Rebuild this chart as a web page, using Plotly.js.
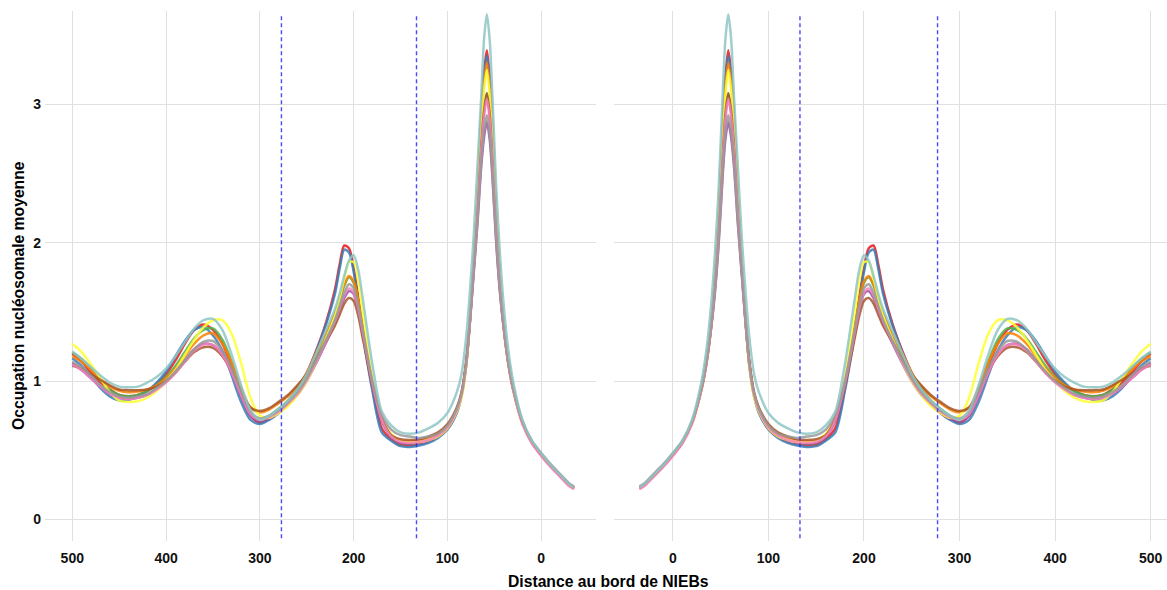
<!DOCTYPE html>
<html>
<head>
<meta charset="utf-8">
<script src="https://cdn.plot.ly/plotly-3.0.1.min.js"></script>
<style>
  html, body { margin: 0; padding: 0; background: #ffffff; }
  #chart { width: 1167px; height: 590px; }
</style>
</head>
<body>
<div id="chart"></div>
<script>
// Distance to NIEB edge (bp)
const distance = [-35,-30,-20,-10,0,10,20,30,35,40,44,48,52,55,58,61,64,68,72,76,80,85,90,100,110,120,130,140,150,160,170,180,190,195,200,205,210,215,220,230,240,250,260,270,280,290,300,310,320,330,340,350,360,370,380,390,400,410,420,430,440,450,460,470,480,490,500];

// Mean nucleosome occupancy, one array per series
const seriesRed = [0.225,0.245,0.315,0.385,0.465,0.555,0.70,0.95,1.14,1.42,
  1.74,2.20,2.82,3.20,3.39,3.23,2.90,2.33,1.86,1.45,
  1.13,0.90,0.78,
  0.66,0.60,0.565,0.545,0.535,0.54,
  0.58,0.66,0.95,1.36,1.60,1.82,1.96,1.98,1.84,1.66,1.41,1.22,1.06,0.94,0.85,0.78,0.73,0.70,
  0.75,0.90,1.10,1.27,1.37,1.41,1.37,1.27,1.15,1.05,0.98,0.93,0.90,0.89,0.90,0.94,0.99,1.06,1.14,1.20];
const seriesBlue = [0.23,0.25,0.32,0.39,0.47,0.56,0.70,0.95,1.14,1.41,
  1.73,2.18,2.79,3.17,3.35,3.19,2.88,2.31,1.85,1.45,
  1.12,0.89,0.77,
  0.65,0.59,0.555,0.535,0.525,0.53,
  0.57,0.63,0.93,1.33,1.57,1.79,1.93,1.95,1.81,1.63,1.40,1.21,1.05,0.93,0.84,0.77,0.72,0.69,
  0.72,0.85,1.04,1.22,1.33,1.39,1.37,1.29,1.18,1.07,0.99,0.93,0.89,0.865,0.86,0.89,0.95,1.03,1.11,1.165];
const seriesGreen = [0.23,0.25,0.32,0.39,0.47,0.56,0.70,0.95,1.13,1.40,
  1.68,2.08,2.60,2.93,3.08,2.95,2.70,2.22,1.82,1.44,
  1.12,0.90,0.79,
  0.66,0.60,0.57,0.555,0.55,0.555,
  0.60,0.72,0.99,1.38,1.57,1.71,1.75,1.69,1.58,1.48,1.32,1.18,1.04,0.94,0.86,0.80,0.75,0.72,
  0.77,0.94,1.14,1.30,1.38,1.37,1.31,1.21,1.11,1.03,0.97,0.93,0.90,0.89,0.90,0.94,1.01,1.09,1.16,1.21];
const seriesPurple = [0.23,0.25,0.32,0.39,0.47,0.56,0.70,0.94,1.12,1.38,
  1.64,2.00,2.47,2.75,2.87,2.76,2.55,2.14,1.78,1.43,
  1.12,0.90,0.79,
  0.66,0.60,0.57,0.555,0.55,0.555,
  0.60,0.71,0.97,1.33,1.51,1.63,1.65,1.60,1.51,1.42,1.27,1.13,1.00,0.90,0.83,0.77,0.73,0.71,
  0.75,0.89,1.06,1.19,1.26,1.27,1.23,1.15,1.07,1.00,0.94,0.90,0.88,0.87,0.88,0.91,0.96,1.02,1.08,1.13];
const seriesOrange = [0.23,0.25,0.32,0.39,0.47,0.56,0.70,0.95,1.13,1.40,
  1.72,2.15,2.75,3.12,3.30,3.15,2.85,2.30,1.85,1.45,
  1.13,0.91,0.80,
  0.68,0.62,0.59,0.57,0.565,0.57,
  0.61,0.74,1.00,1.38,1.58,1.72,1.76,1.70,1.60,1.49,1.34,1.20,1.06,0.96,0.89,0.84,0.795,0.775,
  0.81,0.95,1.13,1.27,1.345,1.33,1.27,1.18,1.09,1.02,0.97,0.94,0.925,0.92,0.93,0.96,1.01,1.08,1.14,1.18];
const seriesYellow = [0.23,0.25,0.32,0.39,0.47,0.56,0.69,0.94,1.12,1.39,
  1.70,2.12,2.70,3.07,3.25,3.10,2.81,2.28,1.84,1.44,
  1.10,0.88,0.78,
  0.66,0.60,0.575,0.56,0.56,0.57,
  0.62,0.73,1.03,1.49,1.72,1.86,1.86,1.74,1.60,1.47,1.30,1.14,1.00,0.90,0.82,0.77,0.735,0.75,
  0.88,1.13,1.34,1.44,1.44,1.39,1.30,1.19,1.08,1.00,0.93,0.88,0.855,0.85,0.86,0.92,1.02,1.12,1.21,1.27];
const seriesBrown = [0.235,0.255,0.325,0.395,0.475,0.565,0.70,0.95,1.13,1.39,
  1.68,2.08,2.60,2.93,3.08,2.95,2.70,2.22,1.82,1.45,
  1.14,0.92,0.81,
  0.69,0.63,0.60,0.58,0.575,0.58,
  0.61,0.73,0.97,1.30,1.47,1.58,1.60,1.56,1.48,1.40,1.28,1.16,1.05,0.97,0.90,0.85,0.805,0.785,
  0.81,0.92,1.07,1.18,1.24,1.245,1.21,1.14,1.06,1.00,0.96,0.94,0.935,0.935,0.94,0.97,1.01,1.05,1.09,1.11];
const seriesPink = [0.22,0.24,0.31,0.38,0.46,0.55,0.69,0.94,1.12,1.39,
  1.67,2.06,2.57,2.89,3.04,2.91,2.66,2.20,1.81,1.43,
  1.12,0.90,0.79,
  0.665,0.605,0.575,0.56,0.555,0.56,
  0.60,0.72,0.98,1.34,1.52,1.64,1.67,1.62,1.52,1.43,1.28,1.14,1.01,0.91,0.84,0.78,0.74,0.72,
  0.76,0.90,1.06,1.19,1.26,1.265,1.22,1.14,1.06,0.99,0.94,0.90,0.88,0.87,0.88,0.91,0.96,1.02,1.08,1.12];
const seriesGrey = [0.24,0.26,0.33,0.40,0.48,0.57,0.71,0.95,1.13,1.39,
  1.65,2.02,2.50,2.79,2.92,2.80,2.58,2.16,1.79,1.43,
  1.13,0.91,0.80,
  0.68,0.62,0.60,0.59,0.60,0.61,
  0.65,0.76,1.00,1.36,1.54,1.67,1.70,1.64,1.54,1.44,1.29,1.15,1.02,0.92,0.85,0.79,0.75,0.73,
  0.78,0.93,1.09,1.22,1.29,1.285,1.23,1.15,1.07,1.00,0.95,0.91,0.89,0.88,0.89,0.92,0.97,1.04,1.10,1.14];
const seriesTeal = [0.235,0.255,0.325,0.395,0.48,0.57,0.72,1.00,1.22,1.55,
  1.92,2.40,3.05,3.47,3.65,3.47,3.05,2.55,2.05,1.65,
  1.32,1.05,0.92,
  0.77,0.70,0.66,0.63,0.62,0.63,
  0.68,0.78,1.12,1.58,1.80,1.91,1.87,1.76,1.63,1.52,1.36,1.20,1.05,0.94,0.86,0.80,0.75,0.72,
  0.79,0.97,1.19,1.37,1.45,1.44,1.38,1.28,1.18,1.09,1.03,0.99,0.96,0.955,0.96,0.99,1.04,1.10,1.16,1.21];

const seriesList = [seriesRed, seriesBlue, seriesGreen, seriesPurple, seriesOrange,
                    seriesYellow, seriesBrown, seriesPink, seriesGrey, seriesTeal];
const seriesColors = ['#E41A1C','#377EB8','#4DAF4A','#984EA3','#FF7F00',
                      '#FFFF33','#A65628','#F781BF','#999999','#8EC5C4'];

// Reference positions (dashed lines)
const refLines = [133, 277];
const xTicks = [0, 100, 200, 300, 400, 500];
const yTicks = [0, 1, 2, 3];

const W = 1167, H = 590;
const traces = [];
['x','x2'].forEach((xa, p) => {
  seriesList.forEach((vals, i) => {
    traces.push({
      x: distance, y: vals, type: 'scatter', mode: 'lines',
      xaxis: xa, yaxis: p === 0 ? 'y' : 'y2',
      line: {color: seriesColors[i], width: 2.5, shape: 'spline', smoothing: 0.8},
      opacity: 0.85, hoverinfo: 'skip', showlegend: false
    });
  });
});

const tickFont = {family: 'Liberation Sans, Arial, sans-serif', size: 14, color: '#111111', weight: 'bold'};
const titleFont = {family: 'Liberation Sans, Arial, sans-serif', size: 15.7, color: '#000000', weight: 'bold'};
const grid = '#e0e0e0';
const yDom = [(H - 541) / H, (H - 11) / H];

const shapes = [];
refLines.forEach(v => {
  shapes.push({type: 'line', xref: 'x', yref: 'y domain', x0: v, x1: v, y0: 0.005, y1: 0.995,
    line: {color: 'rgba(40,40,255,0.85)', width: 1.4, dash: '4px,3px'}});
  shapes.push({type: 'line', xref: 'x2', yref: 'y2 domain', x0: v, x1: v, y0: 0.005, y1: 0.995,
    line: {color: 'rgba(40,40,255,0.85)', width: 1.4, dash: '4px,3px'}});
});

const layout = {
  width: W, height: H,
  margin: {l: 0, r: 0, t: 0, b: 0},
  paper_bgcolor: '#ffffff', plot_bgcolor: '#ffffff',
  showlegend: false,
  xaxis: {domain: [45 / W, 596 / W], range: [529.1, -58.4], anchor: 'y',
    tickvals: xTicks, ticks: '', showgrid: true, gridcolor: grid, gridwidth: 1,
    zeroline: false, showline: false, tickfont: tickFont, ticklabelstandoff: 7},
  yaxis: {domain: yDom, range: [-0.155, 3.674], anchor: 'x',
    tickvals: yTicks, ticks: '', showgrid: true, gridcolor: grid, gridwidth: 1,
    zeroline: false, showline: false, tickfont: tickFont, ticklabelstandoff: 3},
  xaxis2: {domain: [614 / W, 1], range: [-61.6, 517.1], anchor: 'y2',
    tickvals: xTicks, ticks: '', showgrid: true, gridcolor: grid, gridwidth: 1,
    zeroline: false, showline: false, tickfont: tickFont, ticklabelstandoff: 7},
  yaxis2: {domain: yDom, range: [-0.155, 3.674], anchor: 'x2', matches: 'y',
    tickvals: yTicks, ticks: '', showgrid: true, gridcolor: grid, gridwidth: 1,
    zeroline: false, showline: false, showticklabels: false},
  shapes: shapes,
  annotations: [
    {text: 'Distance au bord de NIEBs', xref: 'paper', yref: 'paper',
     x: 608 / W, y: (H - 581) / H, xanchor: 'center', yanchor: 'middle', showarrow: false,
     font: titleFont},
    {text: 'Occupation nucléosomale moyenne', xref: 'paper', yref: 'paper',
     x: 18 / W, y: (H - 296) / H, xanchor: 'center', yanchor: 'middle', showarrow: false,
     textangle: -90, font: titleFont}
  ]
};

Plotly.newPlot('chart', traces, layout, {displayModeBar: false, staticPlot: true});
</script>
</body>
</html>
